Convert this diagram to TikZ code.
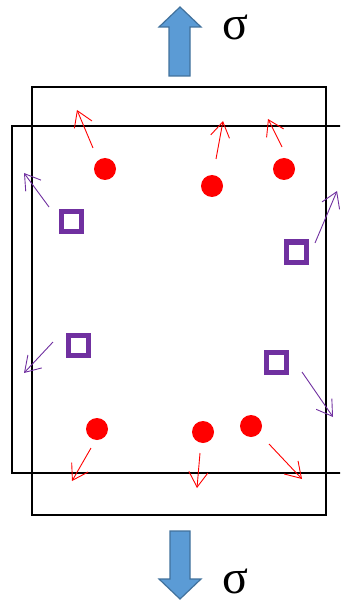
\documentclass[tikz,border=0pt]{standalone}
\usepackage{fontspec}
\setmainfont{Liberation Serif}
\usetikzlibrary{arrows.meta}
\definecolor{dotred}{HTML}{FF0000}
\definecolor{sqpurple}{HTML}{7030A0}
\definecolor{arrowfill}{HTML}{5B9BD5}
\definecolor{arrowedge}{HTML}{41719C}
\tikzset{
  dotnode/.style={circle,fill=dotred,inner sep=0pt,minimum size=22pt},
  sqnode/.style={rectangle,draw=sqpurple,line width=5pt,inner sep=0pt,minimum size=20pt},
  redarrow/.style={draw=dotred,line width=0.9pt,-{Straight Barb[length=15pt,width=19pt,line width=0.9pt]}},
  purparrow/.style={draw=sqpurple,line width=0.9pt,-{Straight Barb[length=15pt,width=19pt,line width=0.9pt]}},
  blockarrow/.style={fill=arrowfill,draw=arrowedge,line width=1.2pt,line join=miter},
  sigmalabel/.style={anchor=base,inner sep=0pt,text depth=0pt,font=\fontsize{48}{48}\selectfont}
}
\begin{document}
\begin{tikzpicture}[x=1pt,y=-1pt]
\useasboundingbox (0,0) rectangle (340,601);
% rectangles
\draw[line width=1.6pt] (32,87) rectangle (326,515);
\begin{scope}
\clip (0,0) rectangle (340,601);
\draw[line width=2.4pt] (350,126) -- (12,126) -- (12,473) -- (350,473);
\end{scope}
% block arrows
\draw[blockarrow] (169,76) -- (169,27) -- (159,27) -- (180,7) -- (201,27) -- (190,27) -- (190,76) -- cycle;
\draw[blockarrow] (170,531) -- (170,579) -- (159,579) -- (180,599) -- (201,579) -- (190,579) -- (190,531) -- cycle;
\node[sigmalabel] (st) at (235,40) {σ};
\node[sigmalabel] (sb) at (235,593) {σ};
% red dots
\node[dotnode] (d1) at (105,169) {};
\node[dotnode] (d2) at (212,186) {};
\node[dotnode] (d3) at (284,169) {};
\node[dotnode] (d4) at (97,429) {};
\node[dotnode] (d5) at (203,432) {};
\node[dotnode] (d6) at (251,426) {};
% purple squares
\node[sqnode] (q1) at (71,222) {};
\node[sqnode] (q2) at (296,252) {};
\node[sqnode] (q3) at (78,345) {};
\node[sqnode] (q4) at (276,362) {};
% arrow ends
\coordinate (a1s) at (93,148); \coordinate (a1e) at (77,110);
\coordinate (a2s) at (216,159); \coordinate (a2e) at (223,121);
\coordinate (a3s) at (282,147); \coordinate (a3e) at (268,119);
\coordinate (a4s) at (91,448); \coordinate (a4e) at (72,481);
\coordinate (a5s) at (200,453); \coordinate (a5e) at (197,488);
\coordinate (a6s) at (269,444); \coordinate (a6e) at (302,479);
\coordinate (b1s) at (49,207); \coordinate (b1e) at (24,173);
\coordinate (b2s) at (315,243); \coordinate (b2e) at (337,191);
\coordinate (b3s) at (53,342); \coordinate (b3e) at (24,373);
\coordinate (b4s) at (302,372); \coordinate (b4e) at (333,417);
\draw[redarrow] (a1s) -- (a1e);
\draw[redarrow] (a2s) -- (a2e);
\draw[redarrow] (a3s) -- (a3e);
\draw[redarrow] (a4s) -- (a4e);
\draw[redarrow] (a5s) -- (a5e);
\draw[redarrow] (a6s) -- (a6e);
\draw[purparrow] (b1s) -- (b1e);
\draw[purparrow] (b2s) -- (b2e);
\draw[purparrow] (b3s) -- (b3e);
\draw[purparrow] (b4s) -- (b4e);
\end{tikzpicture}
\end{document}
